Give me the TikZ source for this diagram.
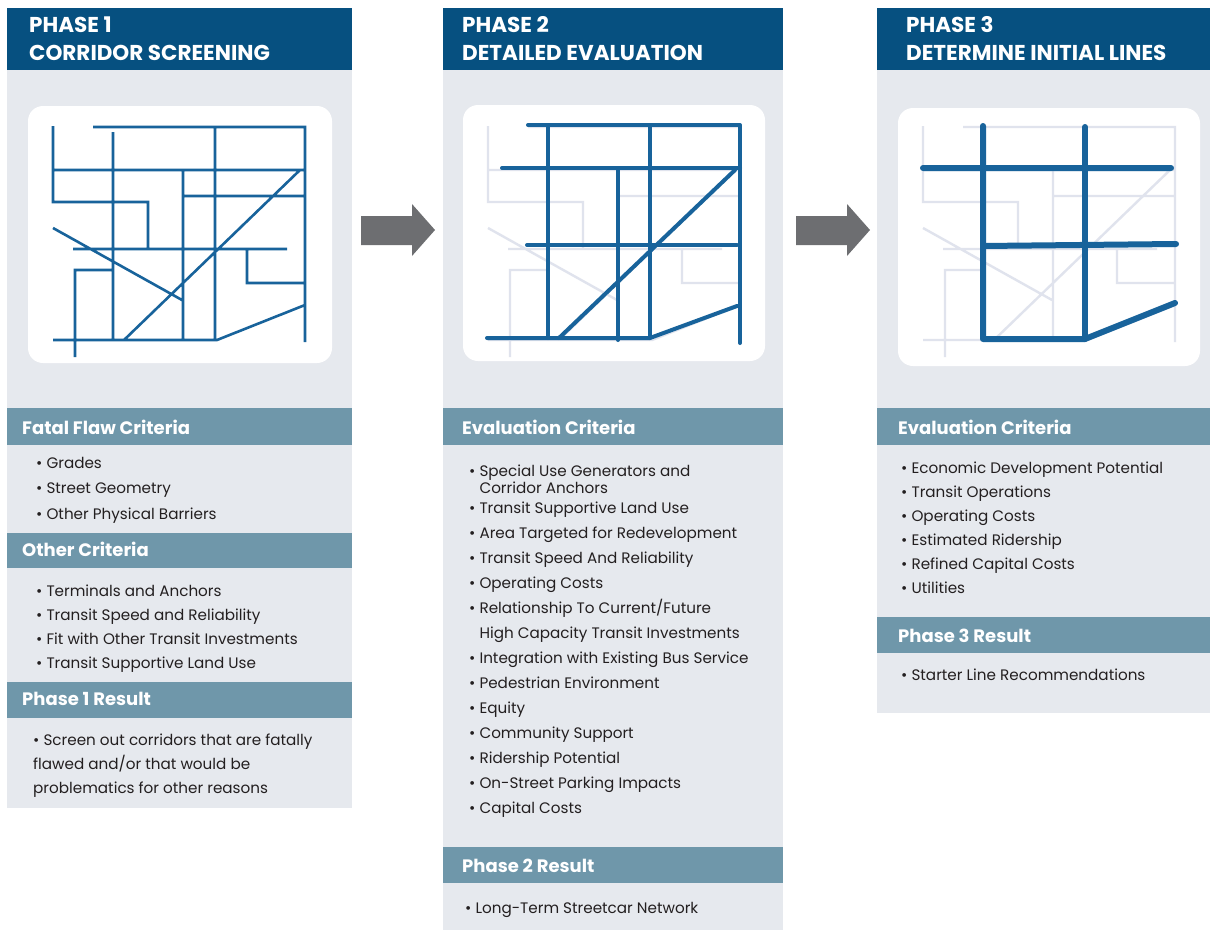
\documentclass[tikz,border=0pt]{standalone}
\usepackage{fontspec}
\setmainfont{Poppins}
\usepackage{xcolor}
\usetikzlibrary{positioning}
\definecolor{headblue}{RGB}{6,80,128}
\definecolor{barblue}{RGB}{111,151,170}
\definecolor{panelgray}{RGB}{230,233,238}
\definecolor{mapblue}{RGB}{24,99,155}
\definecolor{mapfaint}{RGB}{224,227,237}
\definecolor{arrowgray}{RGB}{109,110,113}
\definecolor{textdark}{RGB}{35,31,32}
\tikzset{
  headtext/.style={anchor=base west, inner sep=0pt, text=white, font=\bfseries\fontsize{21.5bp}{26bp}\selectfont},
  bartext/.style={anchor=base west, inner sep=0pt, text=white, font=\bfseries\fontsize{18bp}{22bp}\selectfont},
  itemlist/.style={anchor=base west, inner sep=0pt, align=left, text=textdark, font=\fontsize{15.2bp}{#1}\selectfont},
  itemlist/.default=24.5bp,
  street/.style={mapblue, line width=2.6bp},
  streetfaint/.style={mapfaint, line width=2.4bp},
  streetbold/.style={mapblue, line width=#1, line cap=round, line join=round}
}
% the street map of phase 1, in picture units
\newcommand{\streetgrid}{(53,126) -- (53,202) -- (148,202) -- (148,250)
  (93,127) -- (305,127) -- (305,342)
  (113,132) -- (113,340)
  (215,127) -- (215,340)
  (53,170) -- (305,170)
  (183,170) -- (183,340)
  (183,196) -- (305,196)
  (124,340) -- (300,170)
  (53,228) -- (182,300)
  (73,249) -- (287,249)
  (247,249) -- (247,283) -- (305,283)
  (75,357) -- (75,270) -- (112,270)
  (53,340) -- (217,340) -- (305,305)}

\begin{document}
\begin{tikzpicture}[x=1bp,y=-1bp]
\useasboundingbox (0,0) rectangle (1210,930);
%panels
\fill[panelgray] (7,70) rectangle (352,808);
\fill[panelgray] (443,70) rectangle (783,930);
\fill[panelgray] (877,70) rectangle (1210,713);
\fill[headblue] (7,8) rectangle (352,70);
\fill[headblue] (443,8) rectangle (783,70);
\fill[headblue] (877,8) rectangle (1210,70);
\node[headtext] (p1a) at (29,32) {PHASE 1};
\node[headtext] (p1b) at (29,60) {CORRIDOR SCREENING};
\node[headtext] (p2a) at (462,32) {PHASE 2};
\node[headtext] (p2b) at (462,60) {DETAILED EVALUATION};
\node[headtext] (p3a) at (906,32) {PHASE 3};
\node[headtext] (p3b) at (906,60) {DETERMINE INITIAL LINES};
%maps
\fill[white, rounded corners=15bp] (28,106) rectangle (332,363);
\fill[white, rounded corners=15bp] (463,105) rectangle (765,361);
\fill[white, rounded corners=15bp] (898,108) rectangle (1200,366);
\draw[street] \streetgrid;
\begin{scope}[xshift=435bp]
  \draw[streetfaint] \streetgrid;
  \draw[streetbold=4bp] (93,125) -- (305,125) -- (305,343);
  \draw[streetbold=4bp] (113,125) -- (113,338) (215,125) -- (215,338) (183,168) -- (183,340);
  \draw[streetbold=4bp] (67,168) -- (305,168) (92,245) -- (302,245);
  \draw[streetbold=4bp] (124,338) -- (300,170);
  \draw[streetbold=4bp] (52,338) -- (215,338) -- (302,306);
\end{scope}
\begin{scope}[xshift=870bp]
  \draw[streetfaint] \streetgrid;
  \draw[streetbold=6bp] (113,126) -- (113,339) -- (215,339) -- (305,303);
  \draw[streetbold=6bp] (215,127) -- (215,339);
  \draw[streetbold=6bp] (53,168) -- (301,168) (113,246) -- (306,244);
\end{scope}
%arrows between phases
\fill[arrowgray] (361,216) -- (412,216) -- (412,204) -- (435,230) -- (412,256) -- (412,245) -- (361,245) -- cycle;
\fill[arrowgray] (796,216) -- (847,216) -- (847,204) -- (870,230) -- (847,256) -- (847,245) -- (796,245) -- cycle;
%criteria bars
\fill[barblue] (7,408) rectangle (352,445);
\fill[barblue] (7,533) rectangle (352,568);
\fill[barblue] (7,682) rectangle (352,718);
\fill[barblue] (443,408) rectangle (783,445);
\fill[barblue] (443,847) rectangle (783,883);
\fill[barblue] (877,408) rectangle (1210,445);
\fill[barblue] (877,617) rectangle (1210,653);
\node[bartext] (fatal) at (22,434) {Fatal Flaw Criteria};
\node[bartext] (other) at (22,556) {Other Criteria};
\node[bartext] (res1) at (22,705) {Phase 1 Result};
\node[bartext] (eval2) at (462,434) {Evaluation Criteria};
\node[bartext] (res2) at (462,872) {Phase 2 Result};
\node[bartext] (eval3) at (898,434) {Evaluation Criteria};
\node[bartext] (res3) at (898,642) {Phase 3 Result};
%lists, placed by the baseline of their last line
\node[itemlist=25.5bp] (fatallist) at (36,519) {• Grades\\• Street Geometry\\• Other Physical Barriers};
\node[itemlist=24bp] (otherlist) at (36,668) {• Terminals and Anchors\\• Transit Speed and Reliability\\• Fit with Other Transit Investments\\• Transit Supportive Land Use};
\node[itemlist=24bp] (res1list) at (33,793) {• Screen out corridors that are fatally\\flawed and/or that would be\\problematics for other reasons};
\node[itemlist=25bp] (eval2list) at (469,813) {• Special Use Generators and\\[-8bp]\phantom{• }Corridor Anchors\\[-5bp]• Transit Supportive Land Use\\• Area Targeted for Redevelopment\\• Transit Speed And Reliability\\• Operating Costs\\• Relationship To Current/Future\\\phantom{• }High Capacity Transit Investments\\• Integration with Existing Bus Service\\• Pedestrian Environment\\• Equity\\• Community Support\\• Ridership Potential\\• On-Street Parking Impacts\\• Capital Costs};
\node[itemlist] (res2list) at (465,913) {• Long-Term Streetcar Network};
\node[itemlist=24bp] (eval3list) at (901,593) {• Economic Development Potential\\• Transit Operations\\• Operating Costs\\• Estimated Ridership\\• Refined Capital Costs\\• Utilities};
\node[itemlist] (res3list) at (901,680) {• Starter Line Recommendations};
\end{tikzpicture}
\end{document}
